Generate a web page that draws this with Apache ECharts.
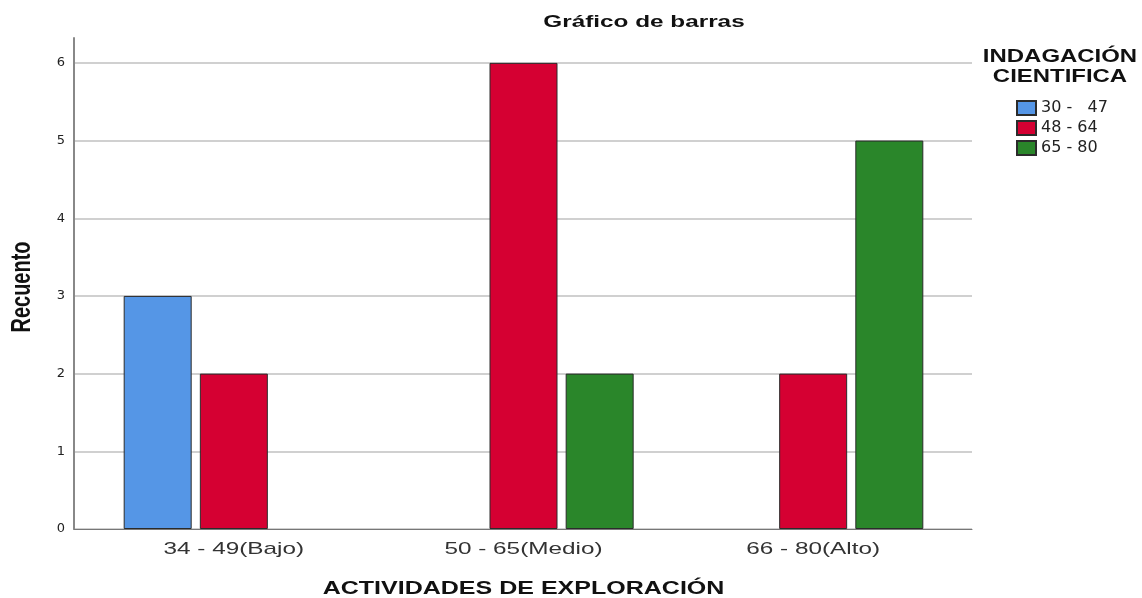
<!DOCTYPE html>
<html>
<head>
<meta charset="utf-8">
<script src="https://cdn.jsdelivr.net/npm/echarts@6/dist/echarts.min.js"></script>
<style>
  html, body { margin: 0; padding: 0; background: #fff; }
  #chart { width: 1142px; height: 598px; }
</style>
</head>
<body>
<div id="chart"></div>
<script>
var categories = ["34 - 49(Bajo)", "50 - 65(Medio)", "66 - 80(Alto)"];
var seriesNames = ["30 -   47", "48 - 64", "65 - 80"];
// null = no bar drawn (count 0)
var bajo30 = [3, null, null];
var medio48 = [2, 6, 2];
var alto65 = [null, 2, 5];
var yTicks = [0, 1, 2, 3, 4, 5, 6];

var colors = ["#5596E6", "#D50032", "#2A862A"];
var font = "Liberation Sans, Arial, sans-serif";

var chart = echarts.init(document.getElementById("chart"));

function barSeries(name, data, color) {
  return {
    name: name,
    type: "bar",
    xAxisIndex: 1,
    yAxisIndex: 1,
    barWidth: 68,
    barGap: "12%",
    data: data,
    itemStyle: { color: color, borderColor: "#2b2b2b", borderWidth: 1 }
  };
}

// the source picture is stretched sideways, so texts get a scaleX
function wideText(x, y, text, fontSpec, sx) {
  return {
    type: "text", x: x, y: y, scaleX: sx,
    style: { text: text, font: fontSpec, fill: "#111", align: "center", verticalAlign: "middle" }
  };
}

var option = {
  backgroundColor: "#fff",
  animation: false,
  legend: {
    orient: "vertical",
    left: 1011,
    top: 95,
    icon: "rect",
    itemWidth: 19,
    itemHeight: 14,
    itemGap: 4,
    data: seriesNames,
    textStyle: { fontFamily: "DejaVu Sans, sans-serif", fontSize: 16, color: "#222", padding: [0, 0, 0, 0] }
  },
  grid: [
    { left: 74, right: 170, top: 63, bottom: 69, outerBoundsMode: "none", containLabel: false },
    { left: 89, right: 184, top: 38, bottom: 69, outerBoundsMode: "none", containLabel: false }
  ],
  xAxis: [
    {
      gridIndex: 0,
      type: "category",
      data: categories,
      axisLine: { lineStyle: { color: "#777", width: 1 } },
      axisTick: { show: false },
      axisLabel: { show: false },
      splitLine: { show: false }
    },
    {
      gridIndex: 1,
      type: "category",
      data: categories,
      axisLine: { show: false },
      axisTick: { show: false },
      axisLabel: { show: false },
      splitLine: { show: false }
    }
  ],
  yAxis: [
    {
      gridIndex: 0,
      type: "value",
      min: yTicks[0],
      max: yTicks[yTicks.length - 1],
      interval: 1,
      axisLine: { show: false },
      axisTick: { show: false },
      axisLabel: { fontFamily: "DejaVu Sans, sans-serif", fontSize: 13, color: "#222", margin: 9 },
      splitLine: { show: true, lineStyle: { color: "#d0d0d0", width: 2 } }
    },
    {
      gridIndex: 1,
      type: "value",
      min: 0,
      max: 6.32,
      interval: 1,
      offset: 15,
      axisLine: { show: true, lineStyle: { color: "#888", width: 2 } },
      axisTick: { show: false },
      axisLabel: { show: false },
      splitLine: { show: false }
    }
  ],
  series: [
    barSeries(seriesNames[0], bajo30, colors[0]),
    barSeries(seriesNames[1], medio48, colors[1]),
    barSeries(seriesNames[2], alto65, colors[2])
  ]
};

chart.setOption(option);

// texts placed after layout, category labels via the axis scale
var texts = [];
texts.push(wideText(644, 22, "Gráfico de barras", "bold 17px " + font, 1.43));

var legendTitle = wideText(1060, 47, "INDAGACIÓN\nCIENTIFICA", "bold 18px " + font, 1.33);
legendTitle.style.lineHeight = 20;
legendTitle.style.verticalAlign = "top";
texts.push(legendTitle);

var yName = wideText(22, 287, "Recuento", "bold 20px " + font, 1);
yName.rotation = Math.PI / 2;
yName.scaleY = 1.4;
texts.push(yName);

var midX = chart.convertToPixel({ xAxisIndex: 1 }, categories[1]);
texts.push(wideText(midX, 589, "ACTIVIDADES DE EXPLORACIÓN", "bold 18px " + font, 1.39));

categories.forEach(function (c) {
  var px = chart.convertToPixel({ xAxisIndex: 1 }, c);
  var el = wideText(px, 549, c, "17px " + font, 1.43);
  el.style.fill = "#333";
  texts.push(el);
});

chart.setOption({ graphic: texts });
</script>
</body>
</html>
